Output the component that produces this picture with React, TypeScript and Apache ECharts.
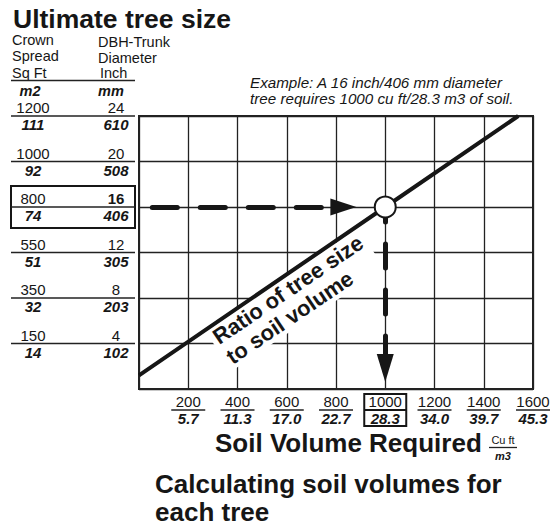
import React, { useEffect, useRef } from 'react';
import * as echarts from 'echarts';

// ---- data ----
const xTicks = [200, 400, 600, 800, 1000, 1200, 1400, 1600];
const xTicksM3 = ['5.7', '11.3', '17.0', '22.7', '28.3', '34.0', '39.7', '45.3'];
const yTicks = [4, 8, 12, 16, 20, 24];
const crownSqFt = ['150', '350', '550', '800', '1000', '1200'];
const crownM2 = ['14', '32', '51', '74', '92', '111'];
const dbhMm = ['102', '203', '305', '406', '508', '610'];
const ratioLine = [[0, 1.2], [1000, 16], [1540, 24]];
const examplePoint = [[1000, 16]];
const arrowAcross = [[54, 16], [830, 16]];
const arrowDown = [[1000, 16], [1000, 1.85]];
const highlightX = 1000;
const highlightY = 16;

const F = '"Liberation Sans", Arial, Helvetica, sans-serif';
const INK = '#161616';

const yRich = (bold16: boolean) => ({
  c1: { width: 44, align: 'center', fontSize: 15, lineHeight: 15, fontFamily: F, color: INK },
  g: { width: 42, align: 'center', lineHeight: 15 },
  c2: { width: 38, align: 'center', fontSize: 15, lineHeight: 15, fontFamily: F, color: INK, fontWeight: bold16 ? 'bold' : 'normal' },
  l: { width: 124, height: 1.5, lineHeight: 2, align: 'center', backgroundColor: '#222' },
  d1: { width: 44, align: 'center', fontSize: 15, lineHeight: 15, fontFamily: F, color: INK, fontWeight: 'bold', fontStyle: 'italic' },
  d2: { width: 38, align: 'center', fontSize: 15, lineHeight: 15, fontFamily: F, color: INK, fontWeight: 'bold', fontStyle: 'italic' },
});

const yLabelText = (v: number) => {
  const i = yTicks.indexOf(v);
  if (i < 0) return '';
  return `{c1|${crownSqFt[i]}}{g|}{c2|${yTicks[i]}}\n{l|}\n{d1|${crownM2[i]}}{g|}{d2|${dbhMm[i]}}`;
};

const xLabelText = (v: number) => {
  const i = xTicks.indexOf(v);
  if (i < 0) return '';
  return `{a|${xTicks[i]}}\n{l|}\n{b|${xTicksM3[i]}}`;
};

export default function App() {
  const ref = useRef<HTMLDivElement>(null);
  useEffect(() => {
    if (!ref.current) return;
    const chart = echarts.init(ref.current, null, { renderer: 'svg' });
    const lineDash = (dash: number[], offset: number) => ({
      color: INK, width: 5, type: dash, dashOffset: offset, cap: 'round',
    });
    const head = (text: string, x: number, y: number, extra: any = {}) => ({
      type: 'text', x, y,
      style: { text, fontSize: 14.5, fontFamily: F, fill: INK, align: 'left', verticalAlign: 'middle', ...extra },
    });
    const option: any = {
      animation: false,
      backgroundColor: '#ffffff',
      grid: { left: 139, right: 15, top: 116, bottom: 138, show: true, borderColor: '#222', borderWidth: 2 },
      xAxis: [
        {
          type: 'value', min: 0, max: 1600, interval: 200,
          axisLine: { show: true, lineStyle: { color: '#222', width: 2 } },
          axisTick: { show: false },
          splitLine: { show: true, lineStyle: { color: '#222', width: 1.3 } },
          axisLabel: {
            margin: 5,
            formatter: (v: number) => (v === highlightX ? '' : xLabelText(v)),
            rich: {
              a: { fontSize: 15, lineHeight: 15, fontFamily: F, color: INK, width: 40, align: 'center' },
              l: { width: 34, height: 1.5, lineHeight: 2, backgroundColor: '#222', align: 'center' },
              b: { fontSize: 15, lineHeight: 14, fontFamily: F, color: INK, fontWeight: 'bold', fontStyle: 'italic', width: 40, align: 'center' },
            },
          },
        },
        {
          type: 'value', min: 0, max: 1600, interval: 200, position: 'bottom',
          axisLine: { show: false }, axisTick: { show: false }, splitLine: { show: false },
          axisLabel: {
            margin: 5,
            customValues: [highlightX],
            formatter: (v: number) => {
              const i = xTicks.indexOf(v);
              return `{a|${xTicks[i]}}\n{l|}\n{b|${xTicksM3[i]}}`;
            },
            borderColor: INK, borderWidth: 2, padding: [0, 0, 0, 0],
            rich: {
              a: { fontSize: 15, lineHeight: 15, fontFamily: F, color: INK, width: 42, align: 'center' },
              l: { width: 42, height: 2, lineHeight: 2, backgroundColor: INK, align: 'center' },
              b: { fontSize: 15, lineHeight: 15, fontFamily: F, color: INK, fontWeight: 'bold', fontStyle: 'italic', width: 42, align: 'center' },
            },
          },
        },
      ],
      yAxis: [
        {
          type: 'value', min: 0, max: 24, interval: 4,
          axisLine: { show: true, lineStyle: { color: '#222', width: 2 } },
          axisTick: { show: false },
          splitLine: { show: true, lineStyle: { color: '#222', width: 1.3 } },
          axisLabel: {
            margin: 4,
            formatter: (v: number) => (v === highlightY ? '' : yLabelText(v)),
            rich: yRich(false),
          },
        },
        {
          type: 'value', min: 0, max: 24, interval: 4, position: 'left',
          axisLine: { show: false }, axisTick: { show: false }, splitLine: { show: false },
          axisLabel: {
            margin: 4,
            customValues: [highlightY],
            formatter: (v: number) => yLabelText(v),
            borderColor: INK, borderWidth: 2, padding: [5, 0, 5, 0],
            rich: yRich(true),
          },
        },
      ],
      series: [
        {
          type: 'line', name: 'ratio', data: ratioLine, showSymbol: false, symbol: 'none',
          lineStyle: { color: INK, width: 4 }, z: 3, silent: true,
        },
        {
          type: 'line', name: 'arrows', data: [], silent: true,
          markLine: {
            silent: true,
            symbol: ['none', 'triangle'],
            label: { show: false },
            emphasis: { disabled: true },
            data: [
              [
                { coord: arrowAcross[0], symbol: 'none', lineStyle: lineDash([25, 23], 0) },
                { coord: arrowAcross[1], symbol: 'triangle', symbolSize: [17, 26], itemStyle: { color: INK }, lineStyle: lineDash([25, 23], 0) },
              ],
              [
                { coord: arrowDown[0], symbol: 'none', lineStyle: lineDash([24, 22], 8.5) },
                { coord: arrowDown[1], symbol: 'triangle', symbolSize: [17, 28], itemStyle: { color: INK }, lineStyle: lineDash([24, 22], 8.5) },
              ],
            ],
          },
        },
        {
          type: 'scatter', name: 'example', data: examplePoint, symbol: 'circle', symbolSize: 21,
          itemStyle: { color: '#ffffff', borderColor: INK, borderWidth: 2, opacity: 1 }, z: 10, silent: true,
        },
      ],
      graphic: [
        { type: 'text', x: 13, y: 18.5, style: { text: 'Ultimate tree size', fontSize: 26.5, fontWeight: 'bold', fontFamily: F, fill: INK, align: 'left', verticalAlign: 'middle' } },
        head('Crown', 12, 40),
        head('Spread', 12, 56),
        head('Sq Ft', 12, 73),
        head('DBH-Trunk', 98, 42),
        head('Diameter', 98, 57.5),
        head('Inch', 100, 73),
        { type: 'line', shape: { x1: 11, y1: 80.5, x2: 135, y2: 80.5 }, style: { stroke: '#222', lineWidth: 1.5 } },
        { type: 'text', x: 30, y: 90.5, style: { text: 'm2', fontSize: 14.5, fontWeight: 'bold', fontStyle: 'italic', fontFamily: F, fill: INK, align: 'center', verticalAlign: 'middle' } },
        { type: 'text', x: 111, y: 90.5, style: { text: 'mm', fontSize: 14.5, fontWeight: 'bold', fontStyle: 'italic', fontFamily: F, fill: INK, align: 'center', verticalAlign: 'middle' } },
        { type: 'text', x: 250, y: 82.5, style: { text: 'Example: A 16 inch/406 mm diameter', fontSize: 15.2, fontStyle: 'italic', fontFamily: F, fill: INK, align: 'left', verticalAlign: 'middle' } },
        { type: 'text', x: 250, y: 98, style: { text: 'tree requires 1000 cu ft/28.3 m3 of soil.', fontSize: 15.2, fontStyle: 'italic', fontFamily: F, fill: INK, align: 'left', verticalAlign: 'middle' } },
        { type: 'text', x: 218.5, y: 351, rotation: (34 * Math.PI) / 180, z: 1, style: { text: 'Ratio of tree size\nto soil volume', fontSize: 22, lineHeight: 24, fontWeight: 'bold', fontFamily: F, fill: INK, align: 'left', verticalAlign: 'middle', backgroundColor: '#ffffff', padding: [0, 4, 0, 4] } },
        { type: 'text', x: 215, y: 443, style: { text: 'Soil Volume Required', fontSize: 26, fontWeight: 'bold', fontFamily: F, fill: INK, align: 'left', verticalAlign: 'middle' } },
        { type: 'text', x: 503, y: 439.5, style: { text: 'Cu ft', fontSize: 11, fontFamily: F, fill: INK, align: 'center', verticalAlign: 'middle' } },
        { type: 'line', shape: { x1: 489, y1: 447.5, x2: 517, y2: 447.5 }, style: { stroke: '#222', lineWidth: 1.3 } },
        { type: 'text', x: 503, y: 456, style: { text: 'm3', fontSize: 11, fontWeight: 'bold', fontStyle: 'italic', fontFamily: F, fill: INK, align: 'center', verticalAlign: 'middle' } },
        { type: 'text', x: 155, y: 484, style: { text: 'Calculating soil volumes for', fontSize: 26, fontWeight: 'bold', fontFamily: F, fill: INK, align: 'left', verticalAlign: 'middle' } },
        { type: 'text', x: 155, y: 511.5, style: { text: 'each tree', fontSize: 26, fontWeight: 'bold', fontFamily: F, fill: INK, align: 'left', verticalAlign: 'middle' } },
      ],
    };
    chart.setOption(option);
    return () => chart.dispose();
  }, []);
  return (
    <div
      ref={ref}
      style={{ position: 'fixed', left: 0, top: 0, width: 556, height: 527, background: '#fff' }}
    />
  );
}
